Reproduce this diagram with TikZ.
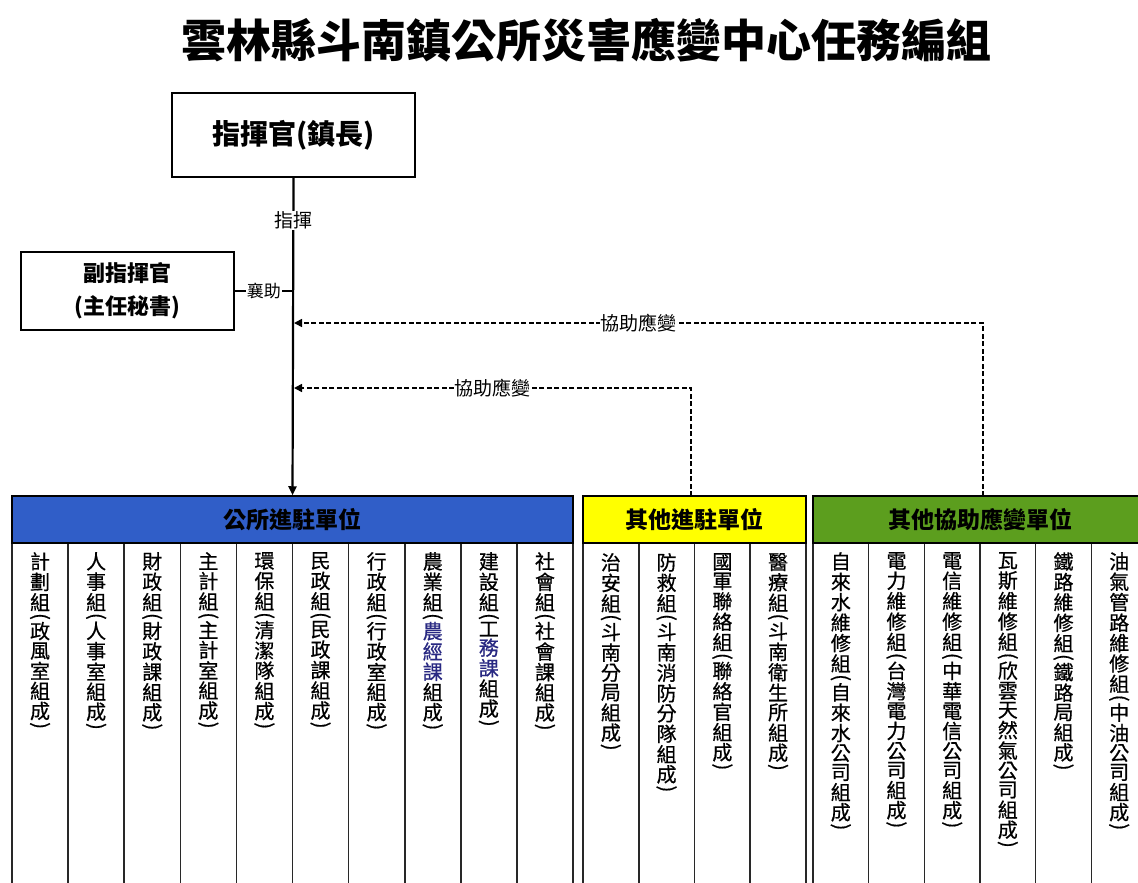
\documentclass[tikz,border=0pt]{standalone}
\usepackage{fontspec}
\usepackage{graphicx}
\setmainfont{Noto Sans CJK TC}
\newfontfamily\colfont{Noto Sans CJK TC}[FakeBold=0.6]
\usetikzlibrary{arrows.meta}
\definecolor{hblue}{RGB}{48,94,200}
\definecolor{hyellow}{RGB}{255,255,0}
\definecolor{hgreen}{RGB}{92,158,30}
\definecolor{navytext}{RGB}{40,40,130}
\definecolor{colgray}{RGB}{40,40,40}
\makeatletter
\newcommand\vchars[1]{\@tfor\vch:=#1\do{\hbox to 20pt{\hss\vch\hss}\kern2pt}}
\makeatother
\newcommand\vpar[1]{\hbox to 20pt{\hss\rotatebox{-90}{#1}\hss}\kern2pt}
\newcommand\vt[2]{\vbox{\offinterlineskip\vchars{#1}\vpar{(}\vchars{#2}\vpar{)}}}
\newcommand\nv[1]{{\color{navytext}#1}}
\tikzset{
  box/.style={draw=black, line width=1.5pt, fill=white, inner sep=0pt},
  hdr/.style={draw=black, line width=1.5pt, inner sep=0pt, minimum height=47pt,
    font=\fontsize{23}{25}\selectfont\bfseries},
  colline/.style={draw=colgray, line width=1.6pt},
  vtext/.style={anchor=north, inner sep=0pt, font=\colfont\fontsize{20}{20}\selectfont},
  mainline/.style={line width=2.2pt, -{Triangle[length=9pt,width=8pt]}},
  assist/.style={line width=1.6pt, dash pattern=on 5pt off 2.5pt, -{Triangle[length=8pt,width=8pt]}},
  lbl/.style={fill=white, inner sep=1pt, font=\fontsize{19}{21}\selectfont},
}
\begin{document}
\begin{tikzpicture}[x=1pt,y=-1pt]
\useasboundingbox (0,0) rectangle (1138,883);
\clip (0,0) rectangle (1138,883);
\fill[white] (0,0) rectangle (1138,883);

% title
\node[inner sep=0pt, font=\fontsize{45}{48}\selectfont\bfseries] (title) at (586.5,40) {雲林縣斗南鎮公所災害應變中心任務編組};

% commander and vice
\node[box, minimum width=243pt, minimum height=84pt, font=\fontsize{28}{30}\selectfont\bfseries] (cmd) at (293.5,135) {指揮官(鎮長)};
\node[box, minimum width=213pt, minimum height=78pt, align=center, font=\fontsize{22}{33}\selectfont\bfseries] (vice) at (127.5,291) {副指揮官\\(主任秘書)};

% column boxes
\foreach \i in {0,...,9} \draw[colline] ({12+56.1*\i},543) rectangle ({12+56.1*(\i+1)},900);
\foreach \i in {0,...,3} \draw[colline] ({583+55.75*\i},543) rectangle ({583+55.75*(\i+1)},900);
\foreach \i in {0,...,5} \draw[colline] ({813+55.67*\i},543) rectangle ({813+55.67*(\i+1)},900);

% group headers
\node[hdr, fill=hblue, minimum width=561pt] (hA) at (292.5,519.5) {公所進駐單位};
\node[hdr, fill=hyellow, minimum width=223pt] (hB) at (694.5,519.5) {其他進駐單位};
\node[hdr, fill=hgreen, minimum width=334pt] (hC) at (980,519.5) {其他協助應變單位};

% spine
\draw[mainline] (cmd.south) -- node[lbl, pos=0.135] (lzh) {指揮} (hA.north);
\coordinate (j1) at (293,291);
\draw[line width=1.3pt] (vice.east) -- node[lbl, font=\fontsize{17}{19}\selectfont] (lxz) {襄助} (j1);

% assist arrows
\coordinate (s1) at (294,323);
\coordinate (s2) at (294,388);
\coordinate (d1) at (983,496);
\coordinate (d2) at (691,496);
\draw[assist] (d1) -- (d1 |- s1) -- node[lbl] (la1) {協助應變} (s1);
\draw[assist] (d2) -- (d2 |- s2) -- node[lbl] (la2) {協助應變} (s2);

% column texts
\node[vtext] (b1) at (40.05,552) {\vt{計劃組}{政風室組成}};
\node[vtext] (b2) at (96.15,552) {\vt{人事組}{人事室組成}};
\node[vtext] (b3) at (152.25,552) {\vt{財政組}{財政課組成}};
\node[vtext] (b4) at (208.35,552) {\vt{主計組}{主計室組成}};
\node[vtext] (b5) at (264.45,552) {\vt{環保組}{清潔隊組成}};
\node[vtext] (b6) at (320.55,552) {\vt{民政組}{民政課組成}};
\node[vtext] (b7) at (376.65,552) {\vt{行政組}{行政室組成}};
\node[vtext] (b8) at (432.75,552) {\vt{農業組}{{\nv{農}}{\nv{經}}{\nv{課}}組成}};
\node[vtext] (b9) at (488.85,552) {\vt{建設組}{工{\nv{務}}{\nv{課}}組成}};
\node[vtext] (b10) at (544.95,552) {\vt{社會組}{社會課組成}};

\node[vtext] (y1) at (610.9,553) {\vt{治安組}{斗南分局組成}};
\node[vtext] (y2) at (666.6,553) {\vt{防救組}{斗南消防分隊組成}};
\node[vtext] (y3) at (722.4,553) {\vt{國軍聯絡組}{聯絡官組成}};
\node[vtext] (y4) at (778.1,553) {\vt{醫療組}{斗南衛生所組成}};

\node[vtext] (g1) at (840.8,552) {\vt{自來水維修組}{自來水公司組成}};
\node[vtext] (g2) at (896.5,552) {\vt{電力維修組}{台灣電力公司組成}};
\node[vtext] (g3) at (952.2,552) {\vt{電信維修組}{中華電信公司組成}};
\node[vtext] (g4) at (1007.8,552) {\vt{瓦斯維修組}{欣雲天然氣公司組成}};
\node[vtext] (g5) at (1063.5,552) {\vt{鐵路維修組}{鐵路局組成}};
\node[vtext] (g6) at (1119.2,552) {\vt{油氣管路維修組}{中油公司組成}};
\end{tikzpicture}
\end{document}
